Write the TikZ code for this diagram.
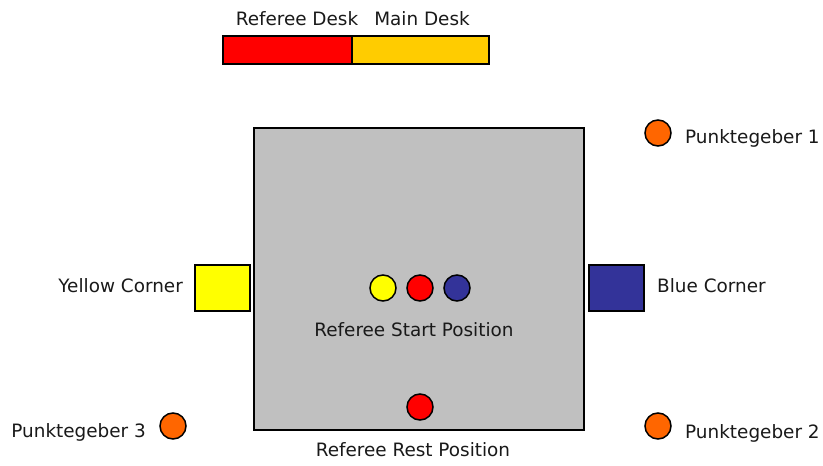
\documentclass[tikz,border=0pt]{standalone}
\usepackage{fontspec}
\setmainfont{DejaVu Sans}
\definecolor{ringgray}{HTML}{C0C0C0}
\definecolor{deskred}{HTML}{FF0000}
\definecolor{deskyellow}{HTML}{FFCC00}
\definecolor{cornyellow}{HTML}{FFFF00}
\definecolor{cornblue}{HTML}{333399}
\definecolor{judgeorange}{HTML}{FF6600}
\definecolor{refblue}{HTML}{333399}
\tikzset{
  box/.style={draw=black, line width=1.6pt, inner sep=0pt},
  dot/.style={circle, draw=black, line width=1.5pt, minimum size=26pt, inner sep=0pt},
  lbl/.style={font=\fontsize{18.4}{20}\selectfont, text=black!90, inner sep=0pt},
}
\begin{document}
\begin{tikzpicture}[x=1pt, y=-1pt]
\useasboundingbox (0,0) rectangle (823,466);
% judges' desks
\node[box, fill=deskred, minimum width=129pt, minimum height=28pt] (refdesk) at (287.5,50) {};
\node[box, fill=deskyellow, minimum width=137pt, minimum height=28pt] (maindesk) at (420.5,50) {};
\node[lbl] (refdesklbl) at (297,19) {Referee Desk};
\node[lbl] (maindesklbl) at (422,19) {Main Desk};
% ring
\node[box, fill=ringgray, line width=2pt, minimum width=330pt, minimum height=302pt] (ring) at (419,279) {};
% corners
\node[box, fill=cornyellow, minimum width=55pt, minimum height=46pt] (ycorner) at (222.5,288) {};
\node[box, fill=cornblue, minimum width=55pt, minimum height=46pt] (bcorner) at (616.5,288) {};
\node[lbl, anchor=east] (ylbl) at (183,286) {Yellow Corner};
\node[lbl, anchor=west] (blbl) at (657,286) {Blue Corner};
% referee start position
\node[dot, fill=cornyellow] (sy) at (383,288) {};
\node[dot, fill=deskred] (sr) at (420,288) {};
\node[dot, fill=refblue] (sb) at (457,288) {};
\node[lbl] (startlbl) at (414,330) {Referee Start Position};
% referee rest position
\node[dot, fill=deskred] (rest) at (420,407) {};
\node[lbl] (restlbl) at (413,450) {Referee Rest Position};
% point judges
\node[dot, fill=judgeorange] (pg1) at (658,133) {};
\node[dot, fill=judgeorange] (pg2) at (658,426) {};
\node[dot, fill=judgeorange] (pg3) at (173,426) {};
\node[lbl, anchor=west] (pg1lbl) at (685,138) {Punktegeber 1};
\node[lbl, anchor=west] (pg2lbl) at (685,433) {Punktegeber 2};
\node[lbl, anchor=east] (pg3lbl) at (146,432) {Punktegeber 3};
\end{tikzpicture}
\end{document}
